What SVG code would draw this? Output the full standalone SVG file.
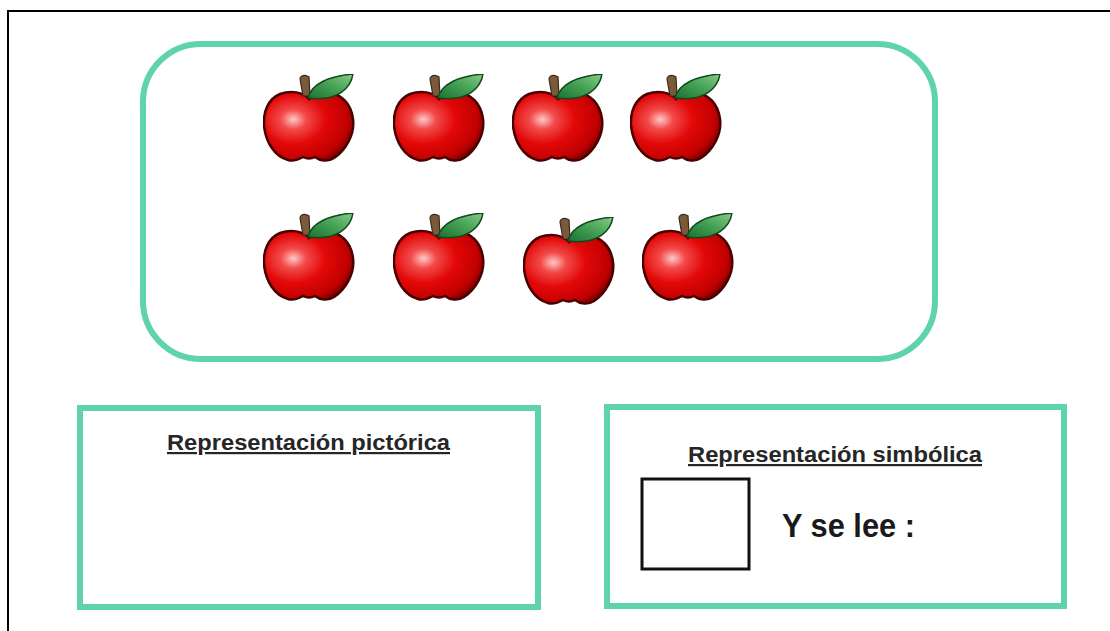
<svg xmlns="http://www.w3.org/2000/svg" xmlns:xlink="http://www.w3.org/1999/xlink" width="1110" height="631" viewBox="0 0 1110 631">
<style>
.frame{fill:none;stroke:#5fd3a9;stroke-width:6}
.title{font-family:"Liberation Sans",Arial,sans-serif;font-weight:bold;font-size:22px;fill:#262626;text-decoration:underline}
.big{font-family:"Liberation Sans",Arial,sans-serif;font-weight:bold;font-size:33px;fill:#1a1a1a}
</style>
<defs>
<radialGradient id="redG" cx="0.33" cy="0.4" r="0.72">
<stop offset="0" stop-color="#ffc8c8"/>
<stop offset="0.2" stop-color="#f24a4a"/>
<stop offset="0.5" stop-color="#e30808"/>
<stop offset="0.85" stop-color="#c00000"/>
<stop offset="1" stop-color="#6a0000"/>
</radialGradient>
<linearGradient id="leafG" x1="0" y1="1" x2="1" y2="0">
<stop offset="0" stop-color="#1c7032"/>
<stop offset="0.55" stop-color="#48a458"/>
<stop offset="1" stop-color="#8acb8a"/>
</linearGradient>
<symbol id="apple" viewBox="0 0 92 88" width="92" height="88">
<path d="M46,25 C40,18 28,16 17,20 C5,25 0,38 1,52 C3,68 11,82 25,86 C31,88 36,85 40,83 C44,85 48,85 52,83 C57,87 65,88 71,84 C83,76 92,60 90,45 C88,29 78,20 66,19 C58,18 52,20 46,25 Z" fill="url(#redG)" stroke="#4a0000" stroke-width="2.5"/>
<path d="M40,22 L37,5 C37,2 40,1 43,1.5 L46,3 L47,22 Z" fill="#7a5a3a" stroke="#3a2a1a" stroke-width="1.2"/>
<path d="M45,24 C48,10 66,2 90,0 C88,13 76,28 45,24 Z" fill="url(#leafG)" stroke="#0f4a1c" stroke-width="1.5"/>
</symbol>
</defs>
<rect width="1110" height="631" fill="#ffffff"/>
<g id="page-border">
<path d="M8,631 L8,11 L1110,11" fill="none" stroke="#000" stroke-width="2"/>
</g>
<g id="apples-box">
<rect class="frame" x="143" y="44" width="792" height="315" rx="58" ry="58"/>
<use xlink:href="#apple" href="#apple" x="263" y="74"/>
<use xlink:href="#apple" href="#apple" x="393" y="74"/>
<use xlink:href="#apple" href="#apple" x="512" y="74"/>
<use xlink:href="#apple" href="#apple" x="630" y="74"/>
<use xlink:href="#apple" href="#apple" x="263" y="213"/>
<use xlink:href="#apple" href="#apple" x="393" y="213"/>
<use xlink:href="#apple" href="#apple" x="523" y="217"/>
<use xlink:href="#apple" href="#apple" x="642" y="213"/>
</g>
<g id="pictorica">
<rect class="frame" x="80" y="408" width="458" height="199"/>
<text class="title" x="167" y="450" textLength="283" lengthAdjust="spacingAndGlyphs">Representación pictórica</text>
</g>
<g id="simbolica">
<rect class="frame" x="607" y="407" width="457" height="199"/>
<text class="title" x="688" y="462" textLength="294" lengthAdjust="spacingAndGlyphs">Representación simbólica</text>
<rect x="642" y="479" width="107" height="90" fill="none" stroke="#111" stroke-width="3"/>
<text class="big" x="782" y="537" textLength="133" lengthAdjust="spacingAndGlyphs">Y se lee :</text>
</g>
<g id="connectors"/>
</svg>
